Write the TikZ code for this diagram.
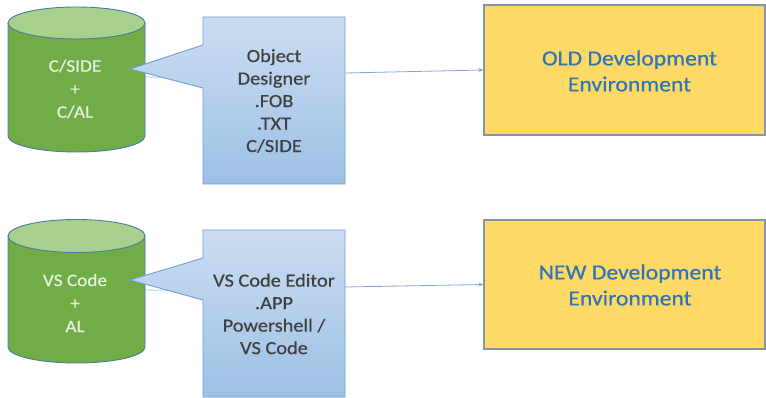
\documentclass[tikz,border=0pt]{standalone}
\usepackage{fontspec}
\setmainfont{Carlito}[FakeStretch=1.1,FakeBold=0.6]
\usetikzlibrary{arrows.meta}
\definecolor{cylgreen}{HTML}{70AD47}
\definecolor{cyltop}{HTML}{A9D18E}
\definecolor{cylline}{HTML}{4A7A9C}
\definecolor{cyltext}{HTML}{E6F2DE}
\definecolor{calltop}{HTML}{CCDDF2}
\definecolor{callbot}{HTML}{9CC0E5}
\definecolor{callline}{HTML}{6C9FD6}
\definecolor{darktext}{HTML}{404040}
\definecolor{envfill}{HTML}{FFD966}
\definecolor{envline}{HTML}{8196AE}
\definecolor{envtext}{HTML}{2E75B6}
\definecolor{linkcol}{HTML}{7FA8DA}
\definecolor{hidcol}{HTML}{B4CBE6}
\tikzset{
  cylbody/.style={fill=cylgreen, draw=cylline, line width=0.9pt},
  cyltopst/.style={fill=cyltop, draw=cylline, line width=0.9pt},
  cyllabel/.style={text=cyltext, align=center, font=\fontsize{17.5}{23}\selectfont},
  callout/.style={top color=calltop, bottom color=callbot, draw=callline, line width=0.9pt},
  calltext/.style={text=darktext, align=center, font=\fontsize{18.5}{22.5}\selectfont},
  envbox/.style={fill=envfill, draw=envline, line width=1.1pt, inner sep=0pt},
  envlabel/.style={text=envtext, align=center, font=\fontsize{21.5}{26}\selectfont},
  link/.style={draw=linkcol, line width=0.8pt, -{Stealth[length=5pt,width=4pt]}},
  hidden/.style={draw=hidcol, line width=0.8pt}
}
\begin{document}
\begin{tikzpicture}[x=1pt,y=-1pt]
\useasboundingbox (0,0) rectangle (766,398);

% ---------- top row ----------
\coordinate (cyl1r) at (145,77);
\coordinate (call1l) at (203,78);
\draw[hidden] (cyl1r) -- (call1l);
\path[cylbody] (8,23) -- (8,136) arc[start angle=180, end angle=0, x radius=68.5, y radius=16] -- (145,23) -- cycle;
\path[cyltopst] (76.5,23) ellipse [x radius=68.5, y radius=16];
\node[cyllabel] (cyl1) at (75,89) {C/SIDE\\+\\C/AL};

\path[callout] (203,17) -- (345,17) -- (345,184) -- (203,184) -- (203,88) -- (130,69) -- (203,45) -- cycle;
\node[calltext] (c1) at (274,101) {Object\\Designer\\.FOB\\.TXT\\C/SIDE};
\coordinate (c1r) at (345,73);

\node[envbox, minimum width=281pt, minimum height=130pt] (old) at (624.5,70) {};
\node[envlabel] (oldlbl) at (629.5,71) {OLD Development\\Environment};
\draw[link] (c1r) -- (old.west);

% ---------- bottom row ----------
\coordinate (cyl2r) at (145,290);
\coordinate (call2l) at (203,291);
\draw[hidden] (cyl2r) -- (call2l);
\path[cylbody] (8,236) -- (8,347) arc[start angle=180, end angle=0, x radius=68.5, y radius=16] -- (145,236) -- cycle;
\path[cyltopst] (76.5,236) ellipse [x radius=68.5, y radius=16.5];
\node[cyllabel] (cyl2) at (75,303) {VS Code\\+\\AL};

\path[callout] (203,230) -- (345,230) -- (345,397) -- (203,397) -- (203,300) -- (130,280) -- (203,258) -- cycle;
\node[calltext] (c2) at (274,314) {VS Code Editor\\.APP\\Powershell /\\VS Code};
\coordinate (c2r) at (345,287);

\node[envbox, minimum width=281pt, minimum height=129pt] (new) at (624.5,284.5) {};
\node[envlabel] (newlbl) at (630,285) {NEW Development\\Environment};
\draw[link] (c2r) -- (new.west);
\end{tikzpicture}
\end{document}
